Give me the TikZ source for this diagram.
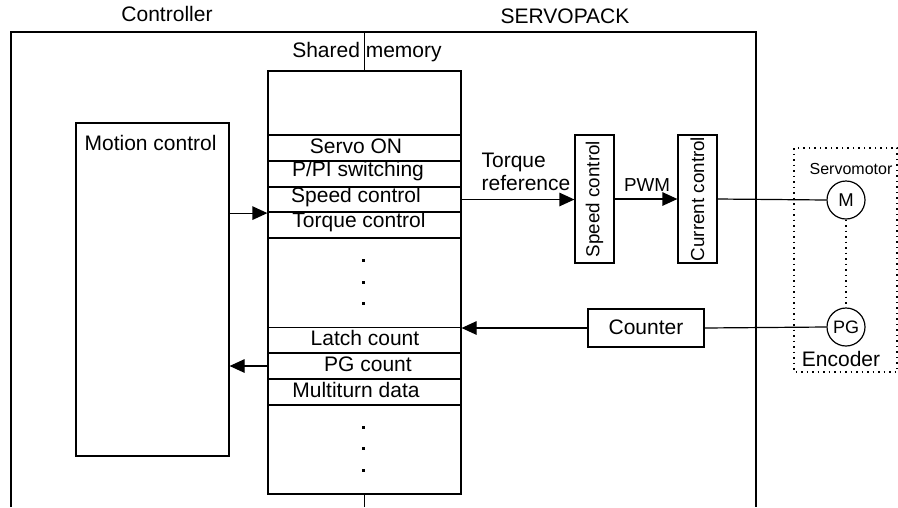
\documentclass[tikz,border=0pt]{standalone}
\usepackage{fontspec}
\setmainfont{Liberation Sans}
\usetikzlibrary{arrows.meta}
\begin{document}
\begin{tikzpicture}[x=1pt,y=-1pt, line width=1.2pt,
  box/.style={draw, rectangle, inner sep=0pt},
  lbl/.style={inner sep=0pt, font=\fontsize{21}{22.5}\selectfont},
  smalltxt/.style={inner sep=0pt, font=\fontsize{18.8}{20}\selectfont},
  row/.style={box, minimum width=193pt, minimum height=26pt},
  arr/.style={-{Triangle[length=15pt,width=13.5pt]}},
  dotl/.style={dash pattern=on 1.5pt off 4pt},
  sq/.style={fill, rectangle, minimum size=3pt, inner sep=0pt}]
\useasboundingbox (0,0) rectangle (898,507);
% outer frame
\draw (11,507) -- (11,32) -- (756,32) -- (756,507);
\node[lbl] (ctl) at (167,14) {Controller};
\node[lbl] (svp) at (565,16) {SERVOPACK};
% shared memory
\node[box, minimum width=193pt, minimum height=423pt] (mem) at (364.5,282.5) {};
\node[lbl] (shm) at (367,52) {Shared memory};
\draw (364.5,32) -- (mem.north);
\draw (mem.south) -- (364.5,507);
\node[row] (r1) at (364.5,148) {};
\node[row] (r2) at (364.5,174) {};
\node[row] (r3) at (364.5,199.5) {};
\node[row] (r4) at (364.5,225) {};
\node[row] (r5) at (364.5,340.5) {};
\node[row] (r6) at (364.5,366) {};
\node[row] (r7) at (364.5,392) {};
\node[lbl] at (356,146) {Servo ON};
\node[lbl] at (358,171) {P/PI switching};
\node[lbl] at (356,197) {Speed control};
\node[lbl] at (359,222) {Torque control};
\node[lbl] at (365,338) {Latch count};
\node[lbl] at (368,364) {PG count};
\node[lbl] at (356,390) {Multiturn data};
\foreach \yy in {260,282,303,427,448,470} \node[sq] at (363,\yy) {};
% motion control
\node[box, minimum width=153pt, minimum height=333pt] (mc) at (152.5,289.5) {};
\node[lbl, anchor=west] at (84,143) {Motion control};
% servo blocks
\node[box, minimum width=39pt, minimum height=128pt] (spd) at (594.5,199) {};
\node[smalltxt, rotate=90] at (594.5,199) {Speed control};
\node[box, minimum width=39pt, minimum height=128pt] (cur) at (697.5,199) {};
\node[smalltxt, rotate=90] at (697.5,199) {Current control};
\node[box, minimum width=116pt, minimum height=38pt] (cnt) at (646,328) {};
\node[lbl] at (646,327) {Counter};
\node[lbl, anchor=west, align=left] at (481,172) {Torque\\reference};
\node[smalltxt] at (647,185) {PWM};
% motor
\draw[dotl] (794,148) rectangle (897,372);
\node[draw, circle, minimum size=38pt, inner sep=0pt, font=\fontsize{18.5}{20}\selectfont] (M) at (846,200) {M};
\node[draw, circle, minimum size=38pt, inner sep=0pt, font=\fontsize{18}{20}\selectfont] (PG) at (846,327) {PG};
\node[inner sep=0pt, font=\fontsize{16}{17}\selectfont] at (851,169) {Servomotor};
\node[lbl] at (841,359) {Encoder};
% connectors
\draw[arr] (mc.east |- r3.south) -- (r3.south west);
\draw[arr] (r3.east) -- (spd.west |- r3.east);
\draw[arr] (spd.east) -- (cur.west);
\draw (cur.east) -- (M.west);
\draw[dotl] (M.south) -- (PG.north);
\draw (PG.west) -- (cnt.east);
\draw[arr] (cnt.west) -- (cnt.west -| mem.east);
\draw[arr] (r6.west) -- (r6.west -| mc.east);
\end{tikzpicture}
\end{document}
